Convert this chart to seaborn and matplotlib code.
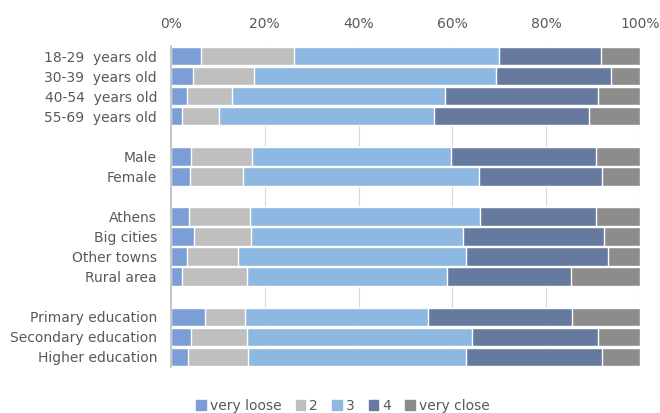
import matplotlib
matplotlib.use("Agg")
import matplotlib.pyplot as plt
import matplotlib.patches as mpatches
import seaborn as sns
import numpy as np
import pandas as pd

# categories, with blank rows between the groups
groups = ["18-29  years old", "30-39  years old", "40-54  years old", "55-69  years old", " ",
          "Male", "Female", "  ",
          "Athens", "Big cities", "Other towns", "Rural area", "   ",
          "Primary education", "Secondary education", "Higher education"]
categories = [g for g in groups if g.strip()]

series = ["very loose", "2", "3", "4", "very close"]
very_loose = [6.5, 4.6, 3.4, 2.4, 4.2, 4.0, 3.9, 5.0, 3.4, 2.4, 7.2, 4.2, 3.6]
two = [19.8, 13.2, 9.7, 7.8, 13.0, 11.3, 12.9, 12.0, 10.9, 13.8, 8.5, 11.9, 12.9]
three = [43.7, 51.5, 45.4, 45.9, 42.4, 50.4, 49.1, 45.3, 48.5, 42.7, 39.2, 48.1, 46.4]
four = [21.7, 24.6, 32.6, 33.0, 31.1, 26.3, 24.8, 30.0, 30.4, 26.4, 30.6, 26.9, 29.1]
very_close = [8.3, 6.1, 8.9, 10.9, 9.3, 8.0, 9.3, 7.7, 6.8, 14.7, 14.5, 8.9, 8.0]

colors = ["#7b9ed6", "#bfbfbf", "#8db8e1", "#66799f", "#8c8c8c"]

df = pd.DataFrame({"group": categories, "very loose": very_loose, "2": two, "3": three,
                   "4": four, "very close": very_close})
# cumulative shares, drawn from the longest down so each layer shows its own part
cum = df[series].cumsum(axis=1)
cum = cum.div(cum["very close"], axis=0) * 100
cum["group"] = df["group"]

sns.set_theme(style="white")
plt.rcParams["font.family"] = ["Liberation Sans Narrow", "DejaVu Sans"]

fig = plt.figure(figsize=(6.6, 4.13), dpi=100)
ax = fig.add_axes([171 / 660, 1 - 367 / 413, (640 - 171) / 660, (367 - 46) / 413])

for s, c in reversed(list(zip(series, colors))):
    sns.barplot(data=cum, x=s, y="group", order=groups, color=c, width=0.92,
                saturation=1, ax=ax, orient="h", zorder=2)

ax.set_xlim(0, 100)
ax.set_ylim(len(groups) - 0.5, -0.5)
ax.set_xticks(np.arange(0, 101, 20))
ax.set_xticklabels([f"{v}%" for v in range(0, 101, 20)])
ax.xaxis.tick_top()
ax.tick_params(axis="x", length=0, pad=11, labelsize=10, labelcolor="#595959")
ax.tick_params(axis="y", length=0, pad=10, labelsize=10, labelcolor="#595959")
ax.set_xlabel("")
ax.set_ylabel("")
ax.grid(axis="x", color="#d9d9d9", linewidth=0.8, zorder=0)
ax.set_axisbelow(True)
for side in ["top", "right", "bottom"]:
    ax.spines[side].set_visible(False)
ax.spines["left"].set_color("#bfbfbf")
ax.spines["left"].set_zorder(3)

handles = [mpatches.Patch(color=c, label=s) for s, c in zip(series, colors)]
fig.legend(handles=handles, loc="center", bbox_to_anchor=(343 / 660, 1 - 406 / 413), ncol=5,
           frameon=False, fontsize=10, handlelength=0.7, handleheight=0.7,
           handletextpad=0.3, columnspacing=1.0, labelcolor="#595959")

fig.savefig("out.png", dpi=100)
